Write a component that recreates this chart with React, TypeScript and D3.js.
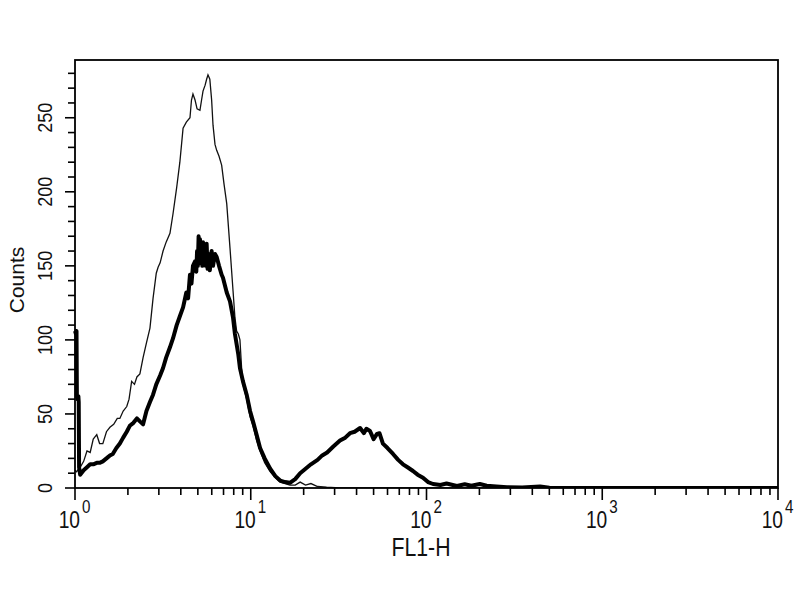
import React from "react";
import * as d3 from "d3";

// Control (thin line): [FL1-H, counts]
const controlData: [number, number][] = [
  [1.0, 12], [1.02, 11], [1.07, 14], [1.12, 18], [1.17, 25], [1.22, 24], [1.27, 33], [1.33, 36],
  [1.38, 30], [1.44, 30], [1.51, 38], [1.58, 41], [1.66, 43], [1.74, 47], [1.8, 47], [1.88, 52],
  [1.97, 55], [2.03, 60], [2.1, 72], [2.18, 70], [2.25, 75], [2.34, 77], [2.44, 88], [2.55, 98],
  [2.67, 108], [2.78, 128], [2.9, 145], [2.97, 149], [3.05, 152], [3.17, 160], [3.3, 166], [3.47, 172],
  [3.61, 185], [3.79, 203], [3.95, 220], [4.12, 243], [4.3, 247], [4.51, 250], [4.6, 262], [4.69, 266],
  [4.82, 262], [4.95, 256], [5.14, 255], [5.25, 262], [5.35, 268], [5.5, 272], [5.61, 276], [5.71, 279],
  [5.85, 276], [5.99, 262], [6.1, 245], [6.26, 232], [6.4, 228], [6.6, 224], [6.83, 218], [7.05, 205],
  [7.3, 192], [7.62, 162], [7.93, 133], [8.13, 115], [8.31, 106], [8.5, 104], [8.68, 100], [8.87, 81],
  [9.03, 70], [9.48, 60], [9.91, 48], [10.3, 42], [10.8, 32], [11.3, 25], [12.0, 17], [12.9, 11],
  [13.8, 7], [14.7, 4], [15.7, 3], [16.7, 2], [17.9, 2], [19.1, 4], [20.5, 2], [22.0, 3],
  [24.0, 1], [27, 0.5], [32, 0], [10000, 0],
];

// Stained (thick line): [FL1-H, counts]
const stainedData: [number, number][] = [
  [1.0, 106], [1.012, 104], [1.02, 106], [1.025, 62], [1.035, 60], [1.045, 62], [1.05, 58], [1.055, 14],
  [1.07, 9], [1.12, 12], [1.17, 14], [1.22, 16], [1.27, 16], [1.33, 17], [1.38, 17], [1.44, 18],
  [1.51, 20], [1.58, 22], [1.64, 23], [1.72, 27], [1.8, 30], [1.88, 34], [1.97, 38], [2.05, 42],
  [2.15, 44], [2.25, 47], [2.34, 45], [2.44, 43], [2.55, 52], [2.67, 58], [2.78, 63], [2.9, 70],
  [3.05, 76], [3.17, 81], [3.3, 88], [3.47, 95], [3.61, 101], [3.79, 110], [3.95, 116], [4.12, 122],
  [4.3, 132], [4.4, 128], [4.51, 144], [4.6, 138], [4.69, 150], [4.82, 153], [4.9, 146], [4.95, 160],
  [5.0, 150], [5.05, 170], [5.1, 158], [5.14, 168], [5.2, 152], [5.25, 162], [5.3, 150], [5.35, 166],
  [5.42, 152], [5.5, 163], [5.55, 150], [5.61, 165], [5.68, 148], [5.75, 158], [5.85, 147], [5.99, 160],
  [6.1, 150], [6.26, 158], [6.4, 156], [6.6, 150], [6.83, 144], [6.95, 142], [7.3, 132], [7.62, 126],
  [7.93, 115], [8.13, 104], [8.5, 90], [8.68, 81], [9.03, 72], [9.48, 63], [9.91, 52], [10.3, 45],
  [10.8, 36], [11.3, 27], [12.0, 20], [12.9, 13], [13.8, 8], [14.7, 5], [15.7, 4], [16.7, 3.5],
  [17.9, 6], [19.1, 10], [20.5, 13], [22.0, 16], [24.0, 19], [25.5, 22], [27.2, 24], [29.5, 28],
  [32.2, 32], [34.5, 34], [36.7, 37], [39.0, 38], [41.9, 40.5], [44.0, 37], [45.5, 40], [47.7, 38.5],
  [50.0, 33], [52.3, 36.5], [54.0, 37], [56.5, 30], [60, 27], [64.5, 23], [69, 19], [73.5, 16],
  [78, 14], [83.8, 11.5], [89, 9], [95.5, 7], [102, 4], [109, 2.7], [120, 2], [130, 3],
  [149, 1.4], [165, 2.5], [180, 1.5], [201, 2.7], [220, 1.5], [250, 1], [287, 0.5], [350, 0.3],
  [443, 1], [500, 0.2], [600, 0], [10000, 0],
];

const xDecades = [1, 10, 100, 1000, 10000];
const xExponents = ["0", "1", "2", "3", "4"];
const yMajorTicks = [0, 50, 100, 150, 200, 250];
const xLabel = "FL1-H";
const yLabel = "Counts";

export default function App() {
  const left = 75, right = 778, top = 60, bottom = 488;
  const x = d3.scaleLog().domain([1, 10000]).range([left, right]);
  const y = d3.scaleLinear().domain([0, 289]).range([bottom, top]);
  const line = d3
    .line<[number, number]>()
    .x((d) => x(d[0]))
    .y((d) => y(d[1]));

  const minorX: number[] = [];
  for (let e = 0; e < 4; e++) {
    for (let k = 2; k <= 9; k++) minorX.push(k * Math.pow(10, e));
  }
  const minorY = d3.range(0, 290, 10).filter((v) => v % 50 !== 0);
  const sans = "'Liberation Sans', Arial, sans-serif";
  const sx = 0.8; // horizontal squeeze to mimic a condensed face

  return (
    <svg
      width={800}
      height={600}
      style={{ position: "absolute", left: 0, top: 0, background: "#fff" }}
      fontFamily={sans}
    >
      <rect x={0} y={0} width={800} height={600} fill="#fff" />
      <defs>
        <clipPath id="plotClip">
          <rect x={left - 2} y={top} width={right - left + 2} height={bottom - top} />
        </clipPath>
      </defs>
      <g clipPath="url(#plotClip)">
        <path d={line(controlData) || ""} fill="none" stroke="#111" strokeWidth={1.3} />
        <path
          d={line(stainedData) || ""}
          fill="none"
          stroke="#000"
          strokeWidth={4}
          strokeLinejoin="round"
        />
      </g>
      <rect
        x={left}
        y={top}
        width={right - left}
        height={bottom - top}
        fill="none"
        stroke="#000"
        strokeWidth={1.8}
      />
      {/* x ticks */}
      {xDecades.map((v, i) => (
        <g key={"xd" + i}>
          <line x1={x(v)} x2={x(v)} y1={bottom} y2={bottom + 12} stroke="#000" strokeWidth={1.6} />
          <text
            transform={`translate(${x(v) + 5},${bottom + 40}) scale(${sx},1)`}
            textAnchor="end"
            fontSize={24}
            fill="#111"
          >
            10
          </text>
          <text
            transform={`translate(${x(v) + 7},${bottom + 25}) scale(${sx},1)`}
            textAnchor="start"
            fontSize={19}
            fill="#111"
          >
            {xExponents[i]}
          </text>
        </g>
      ))}
      {minorX.map((v, i) => (
        <line key={"xm" + i} x1={x(v)} x2={x(v)} y1={bottom} y2={bottom + 7} stroke="#000" strokeWidth={1.6} />
      ))}
      {/* y ticks */}
      {yMajorTicks.map((v, i) => (
        <g key={"yt" + i}>
          <line x1={left - 10} x2={left} y1={y(v)} y2={y(v)} stroke="#000" strokeWidth={1.6} />
          <text
            transform={`translate(${left - 31},${y(v)}) rotate(-90) scale(0.86,1)`}
            textAnchor="middle"
            dy="0.36em"
            fontSize={21}
            fill="#111"
          >
            {v}
          </text>
        </g>
      ))}
      {minorY.map((v, i) => (
        <line key={"ym" + i} x1={left - 7} x2={left} y1={y(v)} y2={y(v)} stroke="#000" strokeWidth={1.6} />
      ))}
      <text
        transform={`translate(421,556) scale(0.85,1)`}
        textAnchor="middle"
        fontSize={25}
        fill="#111"
      >
        {xLabel}
      </text>
      <text
        transform={`translate(16,280) rotate(-90)`}
        textAnchor="middle"
        dy="0.36em"
        fontSize={21}
        fill="#111"
      >
        {yLabel}
      </text>
    </svg>
  );
}
